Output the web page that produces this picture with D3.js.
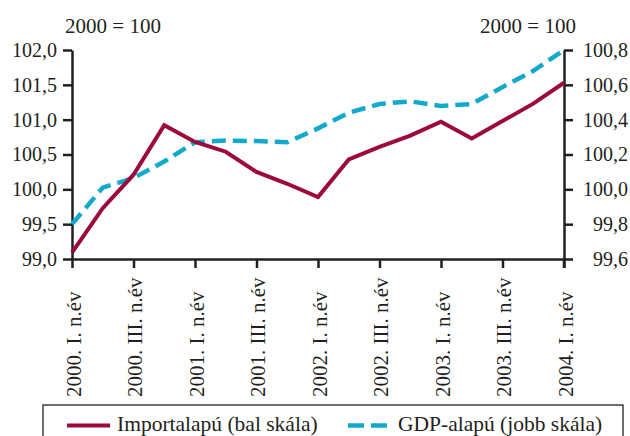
<!DOCTYPE html>
<html>
<head>
<meta charset="utf-8">
<script src="https://cdn.jsdelivr.net/npm/d3@7"></script>
<style>
    body { margin: 0; background: #fff; }
    svg { font-family: "Liberation Serif", "Times New Roman", serif; }
</style>
</head>
<body>
<div id="chart"></div>
<script>
// quarters, 2000 Q1 .. 2004 Q1
const quarters = [
    '2000. I. n.év', '2000. II. n.év', '2000. III. n.év', '2000. IV. n.év',
    '2001. I. n.év', '2001. II. n.év', '2001. III. n.év', '2001. IV. n.év',
    '2002. I. n.év', '2002. II. n.év', '2002. III. n.év', '2002. IV. n.év',
    '2003. I. n.év', '2003. II. n.év', '2003. III. n.év', '2003. IV. n.év',
    '2004. I. n.év'
];

// import based (left scale)
const importSeries = [99.09, 99.73, 100.21, 100.92, 100.68, 100.54, 100.25, 100.08, 99.89,
    100.43, 100.61, 100.77, 100.97, 100.73, 100.98, 101.23, 101.53];

// GDP based (right scale)
const gdpSeries = [99.80, 100.01, 100.065, 100.16, 100.27, 100.28, 100.277, 100.27, 100.35,
    100.44, 100.49, 100.505, 100.478, 100.49, 100.587, 100.68, 100.80];

const leftTicks = [99.0, 99.5, 100.0, 100.5, 101.0, 101.5, 102.0];
const rightTicks = [99.6, 99.8, 100.0, 100.2, 100.4, 100.6, 100.8];

const ink = '#231f20', red = '#9c0a3a', blue = '#12a9cb';
const fontSize = 20;

const svg = d3.select('#chart').append('svg')
    .attr('width', 630).attr('height', 436);

const dim = {l: 72, r: 564, t: 50, b: 259};

// scales
const x = d3.scalePoint().domain(quarters).range([dim.l, dim.r]);
const yL = d3.scaleLinear().domain([99, 102]).range([dim.b, dim.t]);
const yR = d3.scaleLinear().domain([99.6, 100.8]).range([dim.b, dim.t]);

const huFormat = v => d3.format('.1f')(v).replace('.', ',');

function styleAxis(g) {
    g.select('.domain').attr('stroke', ink).attr('stroke-width', 2.5);
    g.selectAll('.tick line').attr('stroke', ink).attr('stroke-width', 2.5);
    g.selectAll('.tick text').attr('fill', ink)
        .style('font-size', fontSize + 'px');
    g.attr('font-family', null);
}

// left axis
svg.append('g')
    .attr('transform', `translate(${dim.l},0)`)
    .call(d3.axisLeft(yL).tickValues(leftTicks).tickSize(9).tickPadding(6)
        .tickSizeOuter(0).tickFormat(huFormat))
    .call(styleAxis);

// right axis, labels right aligned at the edge
svg.append('g')
    .attr('transform', `translate(${dim.r},0)`)
    .call(d3.axisRight(yR).tickValues(rightTicks).tickSize(9)
        .tickSizeOuter(0).tickFormat(huFormat))
    .call(styleAxis)
    .call(g => g.selectAll('.tick text').attr('text-anchor', 'end').attr('x', 64));

// bottom axis, every second quarter labelled
const xAxis = svg.append('g')
    .attr('transform', `translate(0,${dim.b})`)
    .call(d3.axisBottom(x).tickValues(quarters.filter((d, i) => i % 2 === 0))
        .tickSize(9).tickSizeOuter(0))
    .call(styleAxis);

xAxis.selectAll('.tick text')
    .style('font-size', '21px')
    .attr('x', 0).attr('y', 0).attr('dy', 0)
    .attr('text-anchor', 'start')
    .attr('transform', `translate(8,${397 - dim.b}) rotate(-90)`);

// extend right axis line below x axis like a tick
svg.append('line')
    .attr('x1', dim.r).attr('x2', dim.r)
    .attr('y1', dim.b).attr('y2', dim.b + 9)
    .attr('stroke', ink).attr('stroke-width', 2.5);

// unit labels
svg.append('text').attr('x', 113).attr('y', 33).attr('text-anchor', 'middle')
    .attr('fill', ink).style('font-size', '21px').text('2000 = 100');
svg.append('text').attr('x', 528).attr('y', 33).attr('text-anchor', 'middle')
    .attr('fill', ink).style('font-size', '21px').text('2000 = 100');

// lines
const lineL = d3.line().x((d, i) => x(quarters[i])).y(d => yL(d));
const lineR = d3.line().x((d, i) => x(quarters[i])).y(d => yR(d));

svg.append('path').datum(gdpSeries)
    .attr('d', lineR).attr('fill', 'none')
    .attr('stroke', blue).attr('stroke-width', 4.5)
    .attr('stroke-dasharray', '14,7');

svg.append('path').datum(importSeries)
    .attr('d', lineL).attr('fill', 'none')
    .attr('stroke', red).attr('stroke-width', 4)
    .attr('stroke-linejoin', 'miter');

// legend box (bottom edge runs off the picture like in the original)
const leg = svg.append('g');
leg.append('rect').attr('x', 43).attr('y', 405).attr('width', 580).attr('height', 60)
    .attr('fill', '#fff').attr('stroke', ink).attr('stroke-width', 1.3);

leg.append('line').attr('x1', 67).attr('x2', 110).attr('y1', 425.5).attr('y2', 425.5)
    .attr('stroke', red).attr('stroke-width', 4);
leg.append('text').attr('x', 117).attr('y', 430.5).attr('fill', ink)
    .style('font-size', '21.5px').text('Importalapú (bal skála)');

leg.append('line').attr('x1', 348).attr('x2', 387).attr('y1', 425.5).attr('y2', 425.5)
    .attr('stroke', blue).attr('stroke-width', 4.5).attr('stroke-dasharray', '16,7');
leg.append('text').attr('x', 398).attr('y', 430.5).attr('fill', ink)
    .style('font-size', '21.5px').text('GDP-alapú (jobb skála)');
</script>
</body>
</html>
